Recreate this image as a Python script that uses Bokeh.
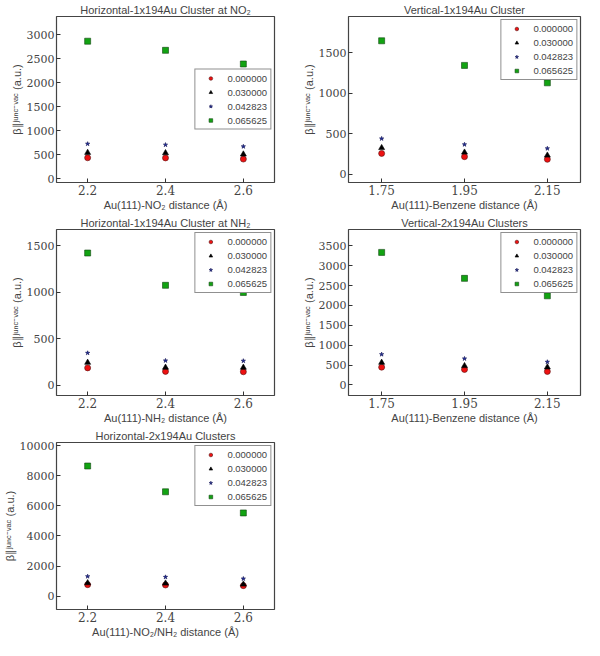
from bokeh.plotting import figure
from bokeh.layouts import gridplot
from bokeh.models import Range1d, FixedTicker, Legend, LegendItem
from bokeh.embed import file_html
from bokeh.resources import INLINE

# ---------------- data ----------------
series_labels = ["0.000000", "0.030000", "0.042823", "0.065625"]

x_nitro = [2.2, 2.4, 2.6]
x_benzene = [1.75, 1.95, 2.15]

# Horizontal-1x194Au Cluster at NO2
h1_no2_s0 = [435, 432, 408]
h1_no2_s1 = [542, 535, 508]
h1_no2_s2 = [725, 705, 670]
h1_no2_s3 = [2865, 2675, 2390]

# Vertical-1x194Au Cluster
v1_s0 = [259, 219, 186]
v1_s1 = [328, 272, 235]
v1_s2 = [442, 369, 320]
v1_s3 = [1650, 1346, 1131]

# Horizontal-1x194Au Cluster at NH2
h1_nh2_s0 = [187, 149, 145]
h1_nh2_s1 = [244, 191, 191]
h1_nh2_s2 = [347, 265, 262]
h1_nh2_s3 = [1422, 1075, 998]

# Vertical-2x194Au Clusters
v2_s0 = [447, 389, 339]
v2_s1 = [563, 480, 447]
v2_s2 = [770, 662, 579]
v2_s3 = [3334, 2681, 2242]

# Horizontal-2x194Au Clusters
h2_s0 = [767, 745, 702]
h2_s1 = [877, 855, 789]
h2_s2 = [1316, 1272, 1162]
h2_s3 = [8640, 6930, 5526]

ticks_nitro = [2.2, 2.4, 2.6]
ticks_benzene = [1.75, 1.95, 2.15]

# ---------------- styling ----------------
Y_LABEL = "β\u2225\u02B2\u1D58\u207F\u1D9C\u207B\u1D5B\u1D43\u1D9C (a.u.)"
markers = ["circle", "triangle", "star", "square"]
fills = ["#ee1111", "#000000", "#1f2f9f", "#12a312"]
lines = ["#551111", "#000000", "#101050", "#114411"]
sizes = [6, 6, 4.5, 6]


def make_panel(title, xlabel, xs, series, xr, yr, yticks, xticks, legend_loc,
               width, height, border_left, border_right):
    p = figure(width=width, height=height, output_backend="svg",
               toolbar_location=None, x_range=Range1d(*xr), y_range=Range1d(*yr),
               min_border_left=border_left, min_border_right=border_right,
               min_border_top=0, min_border_bottom=0)
    p.title.text = title
    p.title.align = "center"
    p.title.text_font = "Liberation Sans"
    p.title.text_font_size = "11px"
    p.title.text_font_style = "normal"
    p.title.standoff = 2
    p.title.offset = 0

    p.xgrid.visible = False
    p.ygrid.visible = False
    p.outline_line_color = "#444444"
    p.outline_line_width = 1.2
    p.background_fill_color = "white"
    p.border_fill_color = "white"

    for ax in (p.xaxis[0], p.yaxis[0]):
        ax.axis_line_color = None
        ax.major_tick_in = 4
        ax.major_tick_out = 0
        ax.minor_tick_line_color = None
        ax.major_tick_line_color = "#333333"
        ax.major_label_text_font = "DejaVu Serif"
        ax.axis_label_text_font = "Liberation Sans"
        ax.axis_label_text_font_style = "normal"
        ax.axis_label_text_font_size = "11px"
        ax.major_label_standoff = 2
        ax.axis_label_standoff = 1

    p.xaxis.ticker = FixedTicker(ticks=xticks)
    p.yaxis.ticker = FixedTicker(ticks=yticks)
    p.xaxis.major_label_text_font_size = "12px"
    p.yaxis.major_label_text_font_size = "11px"
    p.xaxis.axis_label = xlabel
    p.yaxis.axis_label = Y_LABEL

    items = []
    for i, ys in enumerate(series):
        r = p.scatter(xs, ys, marker=markers[i], size=sizes[i],
                      fill_color=fills[i], line_color=lines[i], line_width=0.6)
        items.append(LegendItem(label=series_labels[i], renderers=[r]))

    leg = Legend(items=items, location=legend_loc)
    leg.label_text_font = "Liberation Sans"
    leg.label_text_font_size = "9.5px"
    leg.label_height = 9
    leg.glyph_height = 9
    leg.glyph_width = 24
    leg.spacing = 3
    leg.padding = 3
    leg.margin = 3
    leg.label_standoff = 5
    leg.border_line_color = "#222222"
    leg.border_line_width = 1
    leg.background_fill_alpha = 1
    p.add_layout(leg, "center")
    return p


LW, RW = 290, 294
H1, H2, H3 = 213, 213, 214

p1 = make_panel("Horizontal-1x194Au Cluster at NO\u2082", "Au(111)-NO\u2082 distance (Å)",
                x_nitro, [h1_no2_s0, h1_no2_s1, h1_no2_s2, h1_no2_s3],
                (2.12, 2.68), (-80, 3380), [0, 500, 1000, 1500, 2000, 2500, 3000],
                ticks_nitro, "center_right", LW, H1, 42, 16)
p2 = make_panel("Vertical-1x194Au Cluster", "Au(111)-Benzene distance (Å)",
                x_benzene, [v1_s0, v1_s1, v1_s2, v1_s3],
                (1.67, 2.23), (-100, 1950), [0, 500, 1000, 1500],
                ticks_benzene, "top_right", RW, H1, 58, 4)
p3 = make_panel("Horizontal-1x194Au Cluster at NH\u2082", "Au(111)-NH\u2082 distance (Å)",
                x_nitro, [h1_nh2_s0, h1_nh2_s1, h1_nh2_s2, h1_nh2_s3],
                (2.12, 2.68), (-110, 1675), [0, 500, 1000, 1500],
                ticks_nitro, "top_right", LW, H2, 42, 16)
p4 = make_panel("Vertical-2x194Au Clusters", "Au(111)-Benzene distance (Å)",
                x_benzene, [v2_s0, v2_s1, v2_s2, v2_s3],
                (1.67, 2.23), (-265, 3910), [0, 500, 1000, 1500, 2000, 2500, 3000, 3500],
                ticks_benzene, "top_right", RW, H2, 58, 4)
p5 = make_panel("Horizontal-2x194Au Clusters", "Au(111)-NO\u2082/NH\u2082 distance (Å)",
                x_nitro, [h2_s0, h2_s1, h2_s2, h2_s3],
                (2.12, 2.68), (-880, 10200), [0, 2000, 4000, 6000, 8000, 10000],
                ticks_nitro, "top_right", LW, H3, 42, 16)

grid = gridplot([[p1, p2], [p3, p4], [p5, None]], toolbar_location=None)

open("out.html", "w").write(file_html(grid, INLINE))
